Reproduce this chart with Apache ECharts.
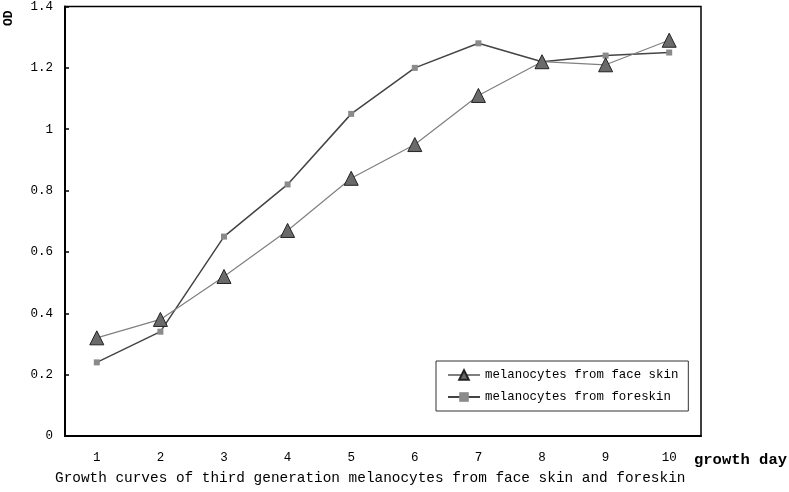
<!DOCTYPE html>
<html><head><meta charset="utf-8">
<script src="https://cdn.jsdelivr.net/npm/echarts@6/dist/echarts.min.js"></script>
<style>html,body{margin:0;padding:0;background:#fff}#c{width:789px;height:492px}</style>
</head><body><div id="c"></div>
<script>
const days = ['1','2','3','4','5','6','7','8','9','10'];
const faceSkin = [0.32, 0.38, 0.52, 0.67, 0.84, 0.95, 1.11, 1.22, 1.21, 1.29];
const foreskin = [0.24, 0.34, 0.65, 0.82, 1.05, 1.20, 1.28, 1.22, 1.24, 1.25];
const seriesNames = ['melanocytes from face skin', 'melanocytes from foreskin'];
const titleText = 'Growth curves of third generation melanocytes from face skin and foreskin';
const xName = 'growth day';
const yName = 'OD';

const mono = '"Liberation Mono", "DejaVu Sans Mono", monospace';
const chart = echarts.init(document.getElementById('c'), null, {renderer:'canvas'});
chart.setOption({
  animation:false,
  backgroundColor:'#fff',
  grid:{left:65, right:88, top:4.5, bottom:56, show:true, borderColor:'#000', borderWidth:1.5, backgroundColor:'transparent'},
  xAxis:{type:'category', data:days, boundaryGap:true,
    axisLine:{lineStyle:{color:'#000', width:2}},
    axisTick:{inside:true, length:5, lineStyle:{color:'#000', width:1.5}},
    axisLabel:{color:'#000', fontFamily:mono, fontSize:12.5, margin:15},
    splitLine:{show:false}},
  yAxis:{type:'value', min:0, max:1.4, interval:0.2,
    axisLine:{show:true, lineStyle:{color:'#000', width:2}},
    axisTick:{show:true, inside:true, length:4, lineStyle:{color:'#000', width:1.5}},
    axisLabel:{color:'#000', fontFamily:mono, fontSize:12.5, margin:12,
      formatter:v=>String(Math.round(v*10)/10)},
    splitLine:{show:false}},
  legend:{orient:'vertical', left:436, top:361,
    padding:[8,10,8,11], itemGap:10, itemWidth:32, itemHeight:12,
    borderColor:'#333', borderWidth:1, backgroundColor:'#fff',
    textStyle:{fontFamily:mono, fontSize:12.4, color:'#000'},
    data:seriesNames},
  series:[
    {name:seriesNames[0], type:'line', data:faceSkin, symbol:'triangle', symbolSize:14,
      lineStyle:{color:'#808080', width:1.2},
      itemStyle:{color:'#6a6a6a', borderColor:'#222', borderWidth:1}, z:3},
    {name:seriesNames[1], type:'line', data:foreskin, symbol:'rect', symbolSize:6,
      lineStyle:{color:'#444', width:1.5},
      itemStyle:{color:'#8a8a8a', borderColor:'#8a8a8a', borderWidth:0}, z:2}
  ],
  graphic:[
    {type:'text', left:55, top:471, style:{text:titleText, font:'14.4px '+mono, fill:'#000'}},
    {type:'text', left:694, top:452, style:{text:xName, font:'bold 15.5px '+mono, fill:'#000'}},
    {type:'text', x:2, y:26, rotation:Math.PI/2, style:{text:yName, font:'bold 13px '+mono, fill:'#000'}}
  ]
});
</script></body></html>
